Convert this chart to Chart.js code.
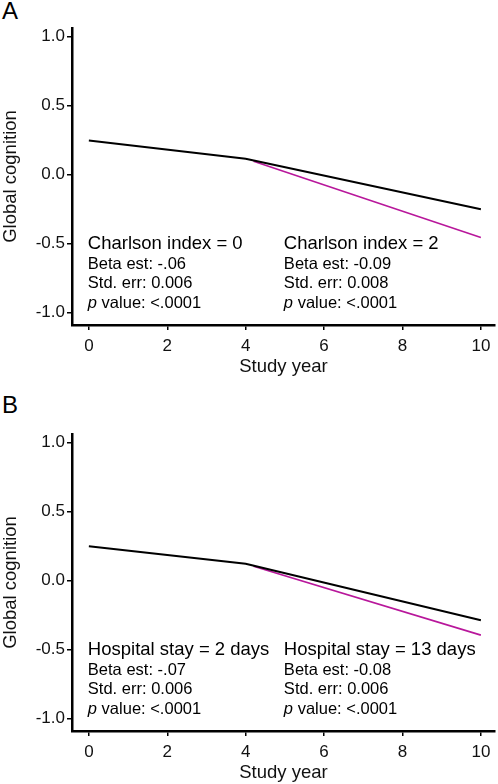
<!DOCTYPE html>
<html>
<head>
<meta charset="utf-8">
<script src="https://cdn.jsdelivr.net/npm/chart.js@4"></script>
<style>
  body { margin: 0; background: #fff; width: 498px; height: 784px; position: relative; overflow: hidden; }
  .panel { position: absolute; left: 0; width: 498px; height: 378px; }
  .letter { position: absolute; left: 2px; font: 24px "Liberation Sans", Arial, sans-serif; color: #000; }
</style>
</head>
<body>
<div class="letter" style="top:-3px">A</div>
<div class="panel" style="top:0"><canvas id="chartA"></canvas></div>
<div class="letter" style="top:391px">B</div>
<div class="panel" style="top:406px"><canvas id="chartB"></canvas></div>
<script>
// study years and fitted trajectories
var yearsBase = [0, 4, 10];
var yearsHigh = [4.2, 10];
var xTicks = [0, 2, 4, 6, 8, 10];
var yTicks = [-1, -0.5, 0, 0.5, 1];

// Panel A - Charlson index
var charlson0 = [0.245, 0.114, -0.252];
var charlson2 = [0.095, -0.457];
var headersA = ['Charlson index = 0', 'Charlson index = 2'];
var betaA = ['-.06', '-0.09'];
var stdErrA = ['0.006', '0.008'];
var pValA = ['<.0001', '<.0001'];

// Panel B - Hospital stay
var stay2 = [0.247, 0.12, -0.288];
var stay13 = [0.103, -0.396];
var headersB = ['Hospital stay = 2 days', 'Hospital stay = 13 days'];
var betaB = ['-.07', '-0.08'];
var stdErrB = ['0.006', '0.006'];
var pValB = ['<.0001', '<.0001'];

var FONT = '"Liberation Sans", Arial, sans-serif';
var MAGENTA = '#b8179b';

function pts(xs, ys) {
  return xs.map(function (x, i) { return {x: x, y: ys[i]}; });
}

// draws the stats boxes inside the plot
var statsText = {
  id: 'statsText',
  afterDraw: function (chart, args, opts) {
    var ctx = chart.ctx;
    var xs = chart.scales.x, ys = chart.scales.y;
    var cols = [0, 5];
    ctx.save();
    ctx.fillStyle = '#000';
    ctx.textBaseline = 'middle';
    ctx.textAlign = 'left';
    cols.forEach(function (c, i) {
      var px = xs.getPixelForValue(c) - 1;
      var py = ys.getPixelForValue(-0.5);
      ctx.font = '18.5px ' + FONT;
      ctx.fillText(opts.headers[i], px, py);
      ctx.font = '16.5px ' + FONT;
      ctx.fillText('Beta est: ' + opts.beta[i], px, py + 21);
      ctx.fillText('Std. err: ' + opts.se[i], px, py + 40);
      ctx.font = 'italic 16.5px ' + FONT;
      ctx.fillText('p', px, py + 60);
      var w = ctx.measureText('p').width;
      ctx.font = '16.5px ' + FONT;
      ctx.fillText(' value: ' + opts.p[i], px + w, py + 60);
    });
    ctx.restore();
  }
};

function makeChart(id, base, high, headers, beta, se, p) {
  return new Chart(document.getElementById(id), {
    type: 'scatter',
    data: {
      datasets: [{
        data: pts(yearsBase, base),
        borderColor: '#000',
        borderWidth: 2,
        showLine: true,
        pointRadius: 0
      }, {
        data: pts(yearsHigh, high),
        borderColor: MAGENTA,
        borderWidth: 1.6,
        showLine: true,
        pointRadius: 0
      }]
    },
    options: {
      responsive: true,
      maintainAspectRatio: false,
      animation: false,
      layout: {padding: {top: 28, right: 3, left: 0, bottom: 0}},
      plugins: {
        legend: {display: false},
        tooltip: {enabled: false},
        statsText: {headers: headers, beta: beta, se: se, p: p}
      },
      scales: {
        x: {
          type: 'linear',
          min: -0.43,
          max: 10.36,
          afterBuildTicks: function (s) { s.ticks = xTicks.map(function (v) { return {value: v}; }); },
          afterFit: function (s) { s.height = 53; },
          grid: {drawOnChartArea: false, drawTicks: true, tickLength: 5, color: '#000', lineWidth: 1.5},
          border: {display: true, color: '#000', width: 2.5},
          ticks: {color: '#111', font: {family: FONT, size: 17}, padding: 6, maxRotation: 0,
            callback: function (v) { return v; }},
          title: {display: true, text: 'Study year', color: '#111', font: {family: FONT, size: 18.5}, padding: {top: 6, bottom: 0}}
        },
        y: {
          min: -1.09,
          max: 1.06,
          afterBuildTicks: function (s) { s.ticks = yTicks.map(function (v) { return {value: v}; }); },
          afterFit: function (s) { s.width = 72; },
          grid: {drawOnChartArea: false, drawTicks: true, tickLength: 5, color: '#000', lineWidth: 1.5},
          border: {display: true, color: '#000', width: 2.5},
          ticks: {color: '#111', font: {family: FONT, size: 17}, padding: 2,
            callback: function (v) { return v.toFixed(1); }},
          title: {display: true, text: 'Global cognition', color: '#111', font: {family: FONT, size: 18.5}, padding: 0}
        }
      }
    },
    plugins: [statsText]
  });
}

makeChart('chartA', charlson0, charlson2, headersA, betaA, stdErrA, pValA);
makeChart('chartB', stay2, stay13, headersB, betaB, stdErrB, pValB);
</script>
</body>
</html>
